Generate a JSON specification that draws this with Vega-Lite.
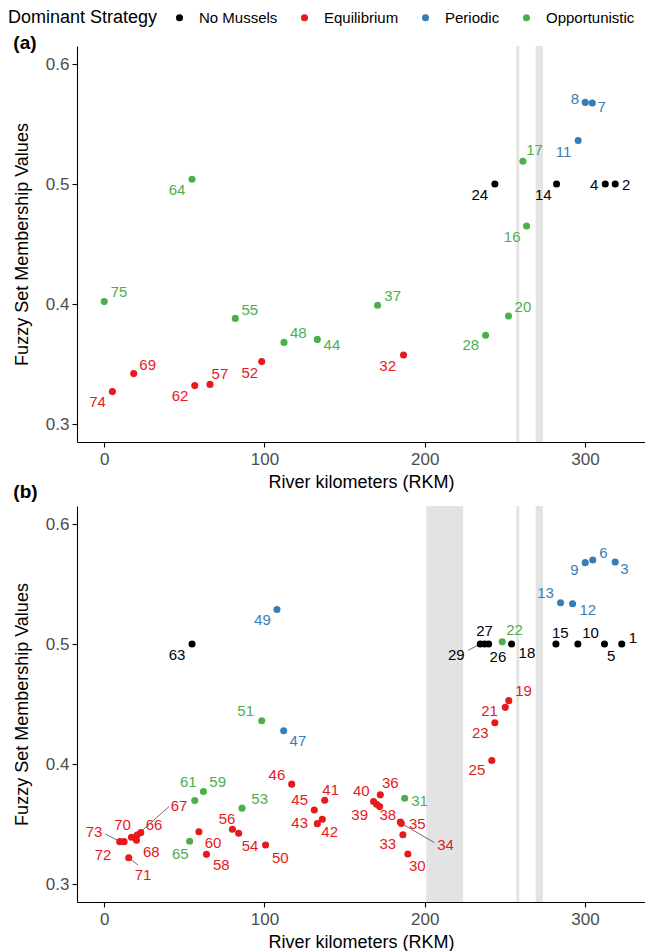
{
  "$schema": "https://vega.github.io/schema/vega-lite/v6.json",
  "padding": {"left": 8, "top": 10, "right": 0, "bottom": 0},
  "spacing": -8,
  "datasets": {
    "pts": [
      {"p":"a","s":"64","g":"Opportunistic","x":54.8,"y":0.504,"lx":45.4,"ly":0.495},
      {"p":"a","s":"75","g":"Opportunistic","x":0,"y":0.402,"lx":9.2,"ly":0.41},
      {"p":"a","s":"55","g":"Opportunistic","x":81.8,"y":0.388,"lx":90.8,"ly":0.395},
      {"p":"a","s":"48","g":"Opportunistic","x":112.2,"y":0.368,"lx":121.1,"ly":0.376},
      {"p":"a","s":"44","g":"Opportunistic","x":133,"y":0.3705,"lx":142.1,"ly":0.3655},
      {"p":"a","s":"37","g":"Opportunistic","x":170.6,"y":0.399,"lx":180,"ly":0.407},
      {"p":"a","s":"20","g":"Opportunistic","x":252.3,"y":0.39,"lx":261.3,"ly":0.3975},
      {"p":"a","s":"28","g":"Opportunistic","x":238,"y":0.374,"lx":228.8,"ly":0.3655},
      {"p":"a","s":"16","g":"Opportunistic","x":263.6,"y":0.465,"lx":254.6,"ly":0.4555},
      {"p":"a","s":"17","g":"Opportunistic","x":261.3,"y":0.519,"lx":268.6,"ly":0.528},
      {"p":"a","s":"69","g":"Equilibrium","x":18.4,"y":0.342,"lx":27.1,"ly":0.3495},
      {"p":"a","s":"74","g":"Equilibrium","x":5.1,"y":0.327,"lx":-4.2,"ly":0.318},
      {"p":"a","s":"62","g":"Equilibrium","x":56.5,"y":0.332,"lx":47.3,"ly":0.323},
      {"p":"a","s":"57","g":"Equilibrium","x":66,"y":0.333,"lx":72.2,"ly":0.342},
      {"p":"a","s":"52","g":"Equilibrium","x":98.3,"y":0.352,"lx":90.8,"ly":0.3425},
      {"p":"a","s":"32","g":"Equilibrium","x":186.8,"y":0.3575,"lx":176.9,"ly":0.3485},
      {"p":"a","s":"24","g":"No Mussels","x":243.8,"y":0.5,"lx":234.4,"ly":0.491},
      {"p":"a","s":"14","g":"No Mussels","x":282.3,"y":0.5,"lx":274,"ly":0.491},
      {"p":"a","s":"4","g":"No Mussels","x":312.7,"y":0.5,"lx":305.8,"ly":0.4988},
      {"p":"a","s":"2","g":"No Mussels","x":318.9,"y":0.5,"lx":325.8,"ly":0.4988},
      {"p":"a","s":"8","g":"Periodic","x":300.2,"y":0.568,"lx":293.7,"ly":0.5708},
      {"p":"a","s":"7","g":"Periodic","x":304.6,"y":0.5675,"lx":310.5,"ly":0.5638},
      {"p":"a","s":"11","g":"Periodic","x":295.8,"y":0.5363,"lx":286.6,"ly":0.5263},
      {"p":"b","s":"63","g":"No Mussels","x":54.8,"y":0.5,"lx":45.4,"ly":0.4906},
      {"p":"b","s":"49","g":"Periodic","x":107.8,"y":0.5288,"lx":98.7,"ly":0.5199},
      {"p":"b","s":"51","g":"Opportunistic","x":98.3,"y":0.436,"lx":88.3,"ly":0.4444},
      {"p":"b","s":"47","g":"Periodic","x":112,"y":0.4277,"lx":120.9,"ly":0.4188},
      {"p":"b","s":"61","g":"Opportunistic","x":56.5,"y":0.3695,"lx":52.5,"ly":0.3849},
      {"p":"b","s":"59","g":"Opportunistic","x":61.9,"y":0.3771,"lx":70.8,"ly":0.3849},
      {"p":"b","s":"53","g":"Opportunistic","x":86,"y":0.3632,"lx":97,"ly":0.3709},
      {"p":"b","s":"65","g":"Opportunistic","x":53.3,"y":0.3356,"lx":47.5,"ly":0.3248},
      {"p":"b","s":"31","g":"Opportunistic","x":187.5,"y":0.3715,"lx":196.8,"ly":0.3693},
      {"p":"b","s":"22","g":"Opportunistic","x":248.4,"y":0.5018,"lx":256.1,"ly":0.5115},
      {"p":"b","s":"73","g":"Equilibrium","x":9.7,"y":0.3353,"lx":-6.4,"ly":0.3436,"ex":0.75,"ey":0.3417},
      {"p":"b","s":"72","g":"Equilibrium","x":12.4,"y":0.3353,"lx":-0.7,"ly":0.3242},
      {"p":"b","s":"70","g":"Equilibrium","x":17,"y":0.3389,"lx":11.4,"ly":0.3492},
      {"p":"b","s":"67","g":"Equilibrium","x":20.5,"y":0.3408,"lx":46.7,"ly":0.3651,"ex":40.4,"ey":0.3645},
      {"p":"b","s":"66","g":"Equilibrium","x":22.8,"y":0.3428,"lx":31.1,"ly":0.3492},
      {"p":"b","s":"68","g":"Equilibrium","x":20.1,"y":0.3364,"lx":29.4,"ly":0.327},
      {"p":"b","s":"71","g":"Equilibrium","x":15.3,"y":0.3219,"lx":24.2,"ly":0.3074,"ex":21.1,"ey":0.3158},
      {"p":"b","s":"60","g":"Equilibrium","x":59.1,"y":0.3435,"lx":67.9,"ly":0.3342},
      {"p":"b","s":"58","g":"Equilibrium","x":63.8,"y":0.3247,"lx":73.1,"ly":0.3158},
      {"p":"b","s":"56","g":"Equilibrium","x":80,"y":0.3456,"lx":76.6,"ly":0.354},
      {"p":"b","s":"54","g":"Equilibrium","x":83.9,"y":0.3423,"lx":91,"ly":0.3317},
      {"p":"b","s":"50","g":"Equilibrium","x":100.7,"y":0.3325,"lx":109.9,"ly":0.3214},
      {"p":"b","s":"46","g":"Equilibrium","x":117,"y":0.3832,"lx":107.8,"ly":0.391},
      {"p":"b","s":"45","g":"Equilibrium","x":131.1,"y":0.3617,"lx":122,"ly":0.3701},
      {"p":"b","s":"41","g":"Equilibrium","x":137.6,"y":0.3698,"lx":141.3,"ly":0.3784},
      {"p":"b","s":"43","g":"Equilibrium","x":133,"y":0.3503,"lx":122,"ly":0.3506},
      {"p":"b","s":"42","g":"Equilibrium","x":136.1,"y":0.354,"lx":140.7,"ly":0.3434},
      {"p":"b","s":"40","g":"Equilibrium","x":168.1,"y":0.3687,"lx":160.4,"ly":0.3776},
      {"p":"b","s":"39","g":"Equilibrium","x":170,"y":0.3665,"lx":159.4,"ly":0.3574},
      {"p":"b","s":"38","g":"Equilibrium","x":171.9,"y":0.3645,"lx":177,"ly":0.3574},
      {"p":"b","s":"36","g":"Equilibrium","x":172.3,"y":0.3743,"lx":178.5,"ly":0.384},
      {"p":"b","s":"35","g":"Equilibrium","x":184.8,"y":0.3516,"lx":195.4,"ly":0.3497},
      {"p":"b","s":"34","g":"Equilibrium","x":185.4,"y":0.3505,"lx":213,"ly":0.3329,"ex":206.2,"ey":0.3344},
      {"p":"b","s":"33","g":"Equilibrium","x":186.4,"y":0.3411,"lx":177,"ly":0.3336},
      {"p":"b","s":"30","g":"Equilibrium","x":189.5,"y":0.325,"lx":195.4,"ly":0.3152},
      {"p":"b","s":"19","g":"Equilibrium","x":252.5,"y":0.4528,"lx":261.7,"ly":0.4606},
      {"p":"b","s":"21","g":"Equilibrium","x":250.3,"y":0.4472,"lx":240.5,"ly":0.4439},
      {"p":"b","s":"23","g":"Equilibrium","x":243.8,"y":0.4344,"lx":234.7,"ly":0.4258},
      {"p":"b","s":"25","g":"Equilibrium","x":241.9,"y":0.4029,"lx":232.6,"ly":0.3946},
      {"p":"b","s":"29","g":"No Mussels","x":234.7,"y":0.5,"lx":219.7,"ly":0.4912,"ex":227,"ey":0.4946},
      {"p":"b","s":"27","g":"No Mussels","x":237.4,"y":0.5,"lx":237.4,"ly":0.5107},
      {"p":"b","s":"26","g":"No Mussels","x":239.9,"y":0.5,"lx":245.7,"ly":0.4893},
      {"p":"b","s":"18","g":"No Mussels","x":254.2,"y":0.5,"lx":263.8,"ly":0.4926},
      {"p":"b","s":"15","g":"No Mussels","x":281.9,"y":0.5,"lx":284.6,"ly":0.5094},
      {"p":"b","s":"10","g":"No Mussels","x":295.6,"y":0.5,"lx":303.5,"ly":0.5094},
      {"p":"b","s":"5","g":"No Mussels","x":312.2,"y":0.5,"lx":316.4,"ly":0.4904},
      {"p":"b","s":"1","g":"No Mussels","x":323,"y":0.5,"lx":329.9,"ly":0.5052},
      {"p":"b","s":"13","g":"Periodic","x":284.8,"y":0.5344,"lx":275.4,"ly":0.5422},
      {"p":"b","s":"12","g":"Periodic","x":292.3,"y":0.5336,"lx":301.8,"ly":0.5282},
      {"p":"b","s":"9","g":"Periodic","x":300.2,"y":0.5678,"lx":293.5,"ly":0.5617},
      {"p":"b","s":"6","g":"Periodic","x":304.9,"y":0.57,"lx":311.6,"ly":0.5762},
      {"p":"b","s":"3","g":"Periodic","x":318.9,"y":0.5683,"lx":324.7,"ly":0.5622}
    ],
    "bands": [
      {"p":"a","x1":257.2,"x2":259.0},
      {"p":"a","x1":269.3,"x2":273.8},
      {"p":"b","x1":201.0,"x2":224.0},
      {"p":"b","x1":257.2,"x2":259.0},
      {"p":"b","x1":269.3,"x2":273.8}
    ]
  },
  "config": {
    "view": {"stroke": null},
    "font": "Liberation Sans",
    "axis": {
      "grid": false, "domainColor": "black", "tickColor": "black", "domainWidth": 1.1, "tickWidth": 1.1, "tickSize": 5,
      "labelColor": "#4d4d4d", "labelFontSize": 17, "labelFont": "Liberation Sans",
      "titleFontSize": 18, "titleFontWeight": "normal", "titleColor": "black", "titleFont": "Liberation Sans"
    },
    "axisX": {"labelPadding": 4, "titlePadding": 6},
    "axisY": {"labelPadding": 3, "titlePadding": 14},
    "legend": {
      "titleOrient": "left",
      "titleFontSize": 18, "titleFontWeight": "normal", "titleColor": "black", "titleFont": "Liberation Sans",
      "labelFontSize": 15, "labelColor": "black", "labelFont": "Liberation Sans",
      "symbolSize": 50, "symbolType": "circle", "labelOffset": 12, "columnPadding": 19, "titlePadding": 14
    },
    "title": {"fontSize": 19, "fontWeight": "bold", "anchor": "start", "frame": "bounds", "font": "Liberation Sans", "color": "black"}
  },
  "vconcat": [
    {
      "title": {"text": "(a)", "offset": -7},
      "width": 568, "height": 396,
      "layer": [
        {
          "data": {"name": "bands"},
          "transform": [{"filter": "datum.p == 'a'"}],
          "mark": {"type": "rect", "color": "#e3e3e3"},
          "encoding": {
            "x": {"field": "x1", "type": "quantitative", "title": "River kilometers (RKM)"},
            "x2": {"field": "x2"}
          }
        },
        {
          "data": {"name": "pts"},
          "transform": [{"filter": "datum.p == 'a'"}],
          "mark": {"type": "circle", "size": 50, "opacity": 1},
          "encoding": {
            "x": {"field": "x", "type": "quantitative", "title": "River kilometers (RKM)",
                  "scale": {"domain": [-17, 337.5], "nice": false, "zero": false},
                  "axis": {"values": [0, 100, 200, 300]}},
            "y": {"field": "y", "type": "quantitative", "title": "Fuzzy Set Membership Values",
                  "scale": {"domain": [0.285, 0.615], "nice": false, "zero": false},
                  "axis": {"values": [0.3, 0.4, 0.5, 0.6], "format": ".1f"}},
            "color": {"field": "g", "type": "nominal", "title": "Dominant Strategy",
                      "scale": {"domain": ["No Mussels", "Equilibrium", "Periodic", "Opportunistic"],
                                "range": ["#000000", "#E41A1C", "#377EB8", "#4DAF4A"]},
                      "legend": {"symbolType": "circle", "orient": "none", "direction": "horizontal", "legendX": -69, "legendY": -36}}
          }
        },
        {
          "data": {"name": "pts"},
          "transform": [{"filter": "datum.p == 'a'"}],
          "mark": {"type": "text", "fontSize": 15, "align": "center", "baseline": "middle", "font": "Liberation Sans"},
          "encoding": {
            "x": {"field": "lx", "type": "quantitative", "title": "River kilometers (RKM)"},
            "y": {"field": "ly", "type": "quantitative", "title": "Fuzzy Set Membership Values"},
            "text": {"field": "s"},
            "color": {"field": "g", "type": "nominal", "title": "Dominant Strategy"}
          }
        }
      ]
    },
    {
      "title": {"text": "(b)", "offset": 4},
      "width": 568, "height": 396,
      "layer": [
        {
          "data": {"name": "bands"},
          "transform": [{"filter": "datum.p == 'b'"}],
          "mark": {"type": "rect", "color": "#e3e3e3"},
          "encoding": {
            "x": {"field": "x1", "type": "quantitative", "title": "River kilometers (RKM)"},
            "x2": {"field": "x2"}
          }
        },
        {
          "data": {"name": "pts"},
          "transform": [{"filter": "datum.p == 'b' && isValid(datum.ex)"}],
          "mark": {"type": "rule", "color": "#6e6e6e", "strokeWidth": 1},
          "encoding": {
            "x": {"field": "x", "type": "quantitative", "title": "River kilometers (RKM)"},
            "y": {"field": "y", "type": "quantitative", "title": "Fuzzy Set Membership Values"},
            "x2": {"field": "ex"},
            "y2": {"field": "ey"}
          }
        },
        {
          "data": {"name": "pts"},
          "transform": [{"filter": "datum.p == 'b'"}],
          "mark": {"type": "circle", "size": 50, "opacity": 1},
          "encoding": {
            "x": {"field": "x", "type": "quantitative", "title": "River kilometers (RKM)",
                  "scale": {"domain": [-17, 337.5], "nice": false, "zero": false},
                  "axis": {"values": [0, 100, 200, 300]}},
            "y": {"field": "y", "type": "quantitative", "title": "Fuzzy Set Membership Values",
                  "scale": {"domain": [0.285, 0.615], "nice": false, "zero": false},
                  "axis": {"values": [0.3, 0.4, 0.5, 0.6], "format": ".1f"}},
            "color": {"field": "g", "type": "nominal", "title": "Dominant Strategy",
                      "scale": {"domain": ["No Mussels", "Equilibrium", "Periodic", "Opportunistic"],
                                "range": ["#000000", "#E41A1C", "#377EB8", "#4DAF4A"]},
                      "legend": {"symbolType": "circle", "orient": "none", "direction": "horizontal", "legendX": -69, "legendY": -36}}
          }
        },
        {
          "data": {"name": "pts"},
          "transform": [{"filter": "datum.p == 'b'"}],
          "mark": {"type": "text", "fontSize": 15, "align": "center", "baseline": "middle", "font": "Liberation Sans"},
          "encoding": {
            "x": {"field": "lx", "type": "quantitative", "title": "River kilometers (RKM)"},
            "y": {"field": "ly", "type": "quantitative", "title": "Fuzzy Set Membership Values"},
            "text": {"field": "s"},
            "color": {"field": "g", "type": "nominal", "title": "Dominant Strategy"}
          }
        }
      ]
    }
  ]
}
